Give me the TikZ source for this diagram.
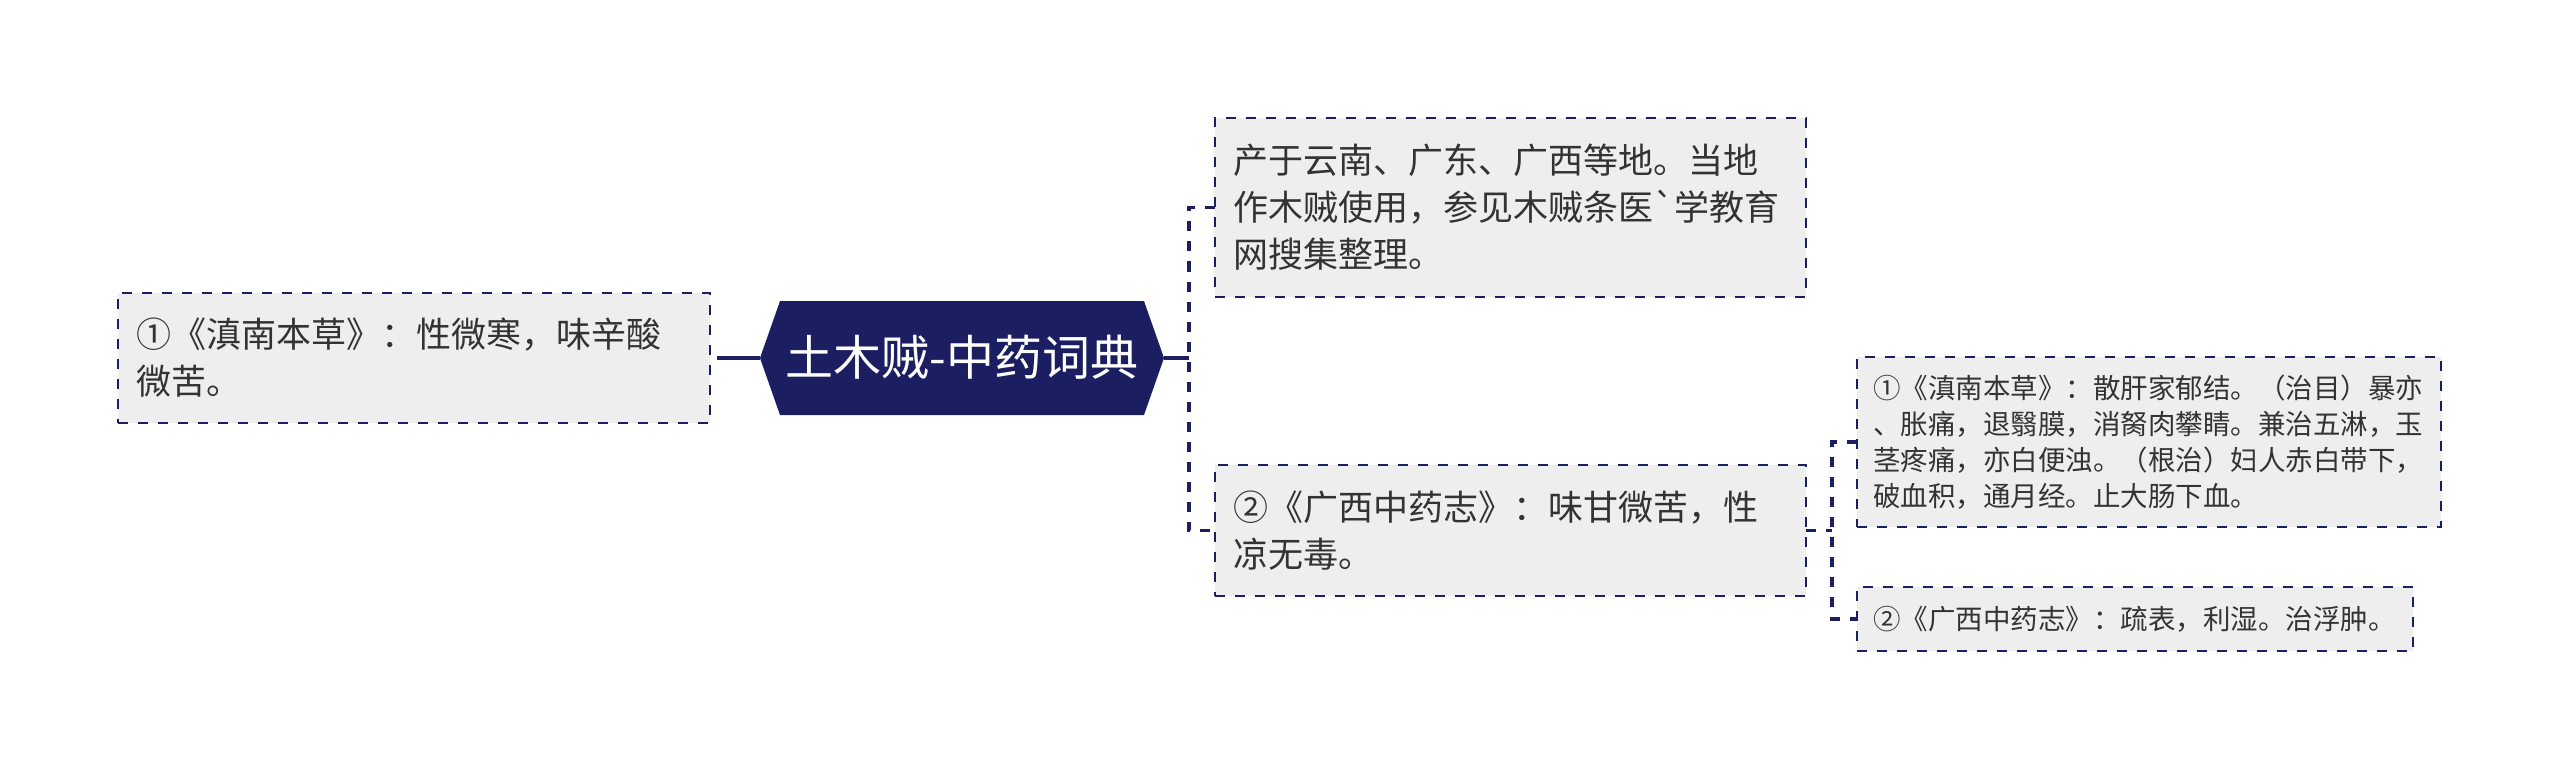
\documentclass[tikz,border=0pt]{standalone}
\usepackage{fontspec}
\setmainfont{Noto Sans CJK SC}[Ligatures=TeXOff]
\definecolor{navy}{HTML}{1B1F62}
\definecolor{boxfill}{HTML}{EEEEEE}
\definecolor{txt}{HTML}{333333}
\newcommand{\fsbig}{\fontsize{35pt}{47pt}\selectfont}
\newcommand{\fssmall}{\fontsize{27.5pt}{36pt}\selectfont}
\newcommand{\fscenter}{\fontsize{48pt}{54pt}\selectfont}
\tikzset{
  leaf/.style={draw=navy, line width=2.2pt, dash pattern=on 10pt off 10pt,
    fill=boxfill, text=txt, align=left, anchor=center,
    inner xsep=18pt, inner ysep=0pt, outer sep=0pt},
  conn/.style={draw=navy, line width=3.3pt, dash pattern=on 10pt off 10pt},
  solidconn/.style={draw=navy, line width=3.3pt},
  hub/.style={inner sep=0pt, outer sep=0pt, text=white, font=\fscenter,
    minimum width=404pt, minimum height=114pt},
}
\begin{document}
\begin{tikzpicture}[x=1pt,y=-1pt]
\useasboundingbox (0,0) rectangle (2560,770);

% center node
\node[hub] (C) at (962,358) {};
\fill[navy] ([xshift=20pt]C.north west) -- ([xshift=-20pt]C.north east) -- (C.east)
  -- ([xshift=-20pt]C.south east) -- ([xshift=20pt]C.south west) -- (C.west) -- cycle;
\node[text=white, font=\fscenter, inner sep=0pt] (Ct) at (C.center) {土木贼-中药词典};

% left
\node[leaf, minimum width=592pt, minimum height=130pt, text width=556pt, font=\fsbig]
  (L) at (414,358) {①《滇南本草》：性微寒，味辛酸\\微苦。};

% right
\node[leaf, minimum width=591pt, minimum height=179pt, text width=555pt, font=\fsbig]
  (T) at (1510.5,207.5) {产于云南、广东、广西等地。当地\\作木贼使用，参见木贼条医\symbol{96}学教育\\网搜集整理。};
\node[leaf, minimum width=591pt, minimum height=131pt, text width=555pt, font=\fsbig]
  (M) at (1510.5,530.5) {②《广西中药志》：味甘微苦，性\\凉无毒。};

% far right
\node[leaf, minimum width=584pt, minimum height=170pt, text width=552pt, font=\fssmall, inner xsep=16pt]
  (FT) at (2149,442) {①《滇南本草》：散肝家郁结。（治目）暴亦\\、胀痛，退翳膜，消胬肉攀睛。兼治五淋，玉\\茎疼痛，亦白便浊。（根治）妇人赤白带下，\\破血积，通月经。止大肠下血。};
\node[leaf, minimum width=556pt, minimum height=64pt, text width=524pt, font=\fssmall, inner xsep=16pt]
  (FB) at (2135,619) {②《广西中药志》：疏表，利湿。治浮肿。};

% connectors
\coordinate (jl) at (727,358);
\coordinate (jr) at (1189,358);
\coordinate (jm) at (1832,530.5);
\draw[solidconn] (C.west) -- (jl);
\draw[conn] (jl) -- (L.east);
\draw[solidconn] (C.east) -- (jr);
\draw[conn] (T.west) -| (jr) |- (M.west);
\draw[conn] (M.east) -- (jm);
\draw[conn] (FT.west) -| (jm) |- (FB.west);
\end{tikzpicture}
\end{document}
